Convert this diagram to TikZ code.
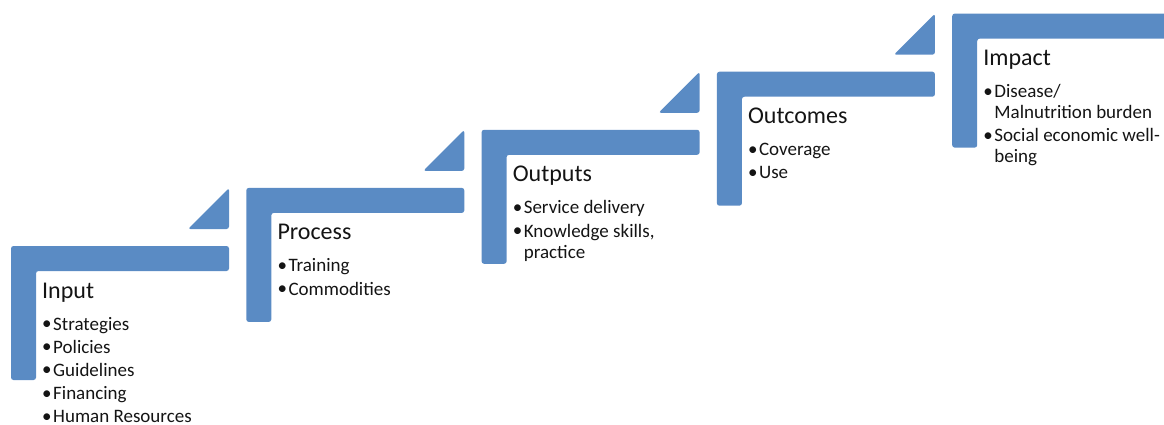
\documentclass[tikz,border=0pt]{standalone}
\usepackage{fontspec}
\setmainfont{Carlito}
\definecolor{stepblue}{RGB}{90,139,196}
\definecolor{txt}{RGB}{20,20,20}
\tikzset{
  stepshape/.style={fill=stepblue, draw=none, rounded corners=2.5pt},
  steptitle/.style={anchor=base west, inner sep=0pt, text=txt, font=\fontsize{24}{28}\selectfont},
  stepitem/.style={anchor=base west, inner sep=0pt, text=txt, font=\fontsize{19}{21}\selectfont},
}
\newcommand\bul{\makebox[11pt][l]{\raisebox{0.5pt}{•}}}
\newcommand\stepshapes{%
  \fill[stepshape] (0,0) -- (218,0) -- (218,25) -- (25,25) -- (25,134) -- (0,134) -- cycle;
  \fill[stepshape] (218,-58) -- (218,-17) -- (177,-17) -- cycle;
}
\begin{document}
\begin{tikzpicture}[x=1pt,y=-1pt]
\clip (0,0) rectangle (1164,425);
% Step 1
\begin{scope}[shift={(11,246)}]
  \stepshapes
  \node[steptitle] (t1) at (31,52) {Input};
  \node[stepitem] (i1a) at (31,84) {\bul Strategies};
  \node[stepitem] (i1b) at (31,107.2) {\bul Policies};
  \node[stepitem] (i1c) at (31,130.4) {\bul Guidelines};
  \node[stepitem] (i1d) at (31,153.6) {\bul Financing};
  \node[stepitem, text depth=0pt] (i1e) at (31,176.6) {\bul Human Resources};
\end{scope}
% Step 2
\begin{scope}[shift={(246.3,187.9)}]
  \stepshapes
  \node[steptitle] (t2) at (31,52) {Process};
  \node[stepitem] (i2a) at (31,84) {\bul Training};
  \node[stepitem] (i2b) at (31,107.2) {\bul Commodities};
\end{scope}
% Step 3
\begin{scope}[shift={(481.6,129.8)}]
  \stepshapes
  \node[steptitle] (t3) at (31,52) {Outputs};
  \node[stepitem] (i3a) at (31,84) {\bul Service delivery};
  \node[stepitem] (i3b) at (31,107.2) {\bul Knowledge skills,};
  \node[stepitem] (i3c) at (42,128.2) {practice};
\end{scope}
% Step 4
\begin{scope}[shift={(716.9,71.7)}]
  \stepshapes
  \node[steptitle] (t4) at (31,52) {Outcomes};
  \node[stepitem] (i4a) at (31,84) {\bul Coverage};
  \node[stepitem] (i4b) at (31,107.2) {\bul Use};
\end{scope}
% Step 5
\begin{scope}[shift={(952.2,13.6)}]
  \stepshapes
  \node[steptitle] (t5) at (31,52) {Impact};
  \node[stepitem] (i5a) at (31,84) {\bul Disease/};
  \node[stepitem] (i5b) at (42,105) {Malnutrition burden};
  \node[stepitem] (i5c) at (31,128.2) {\bul Social economic well-};
  \node[stepitem] (i5d) at (42,149.2) {being};
\end{scope}
\end{tikzpicture}
\end{document}
